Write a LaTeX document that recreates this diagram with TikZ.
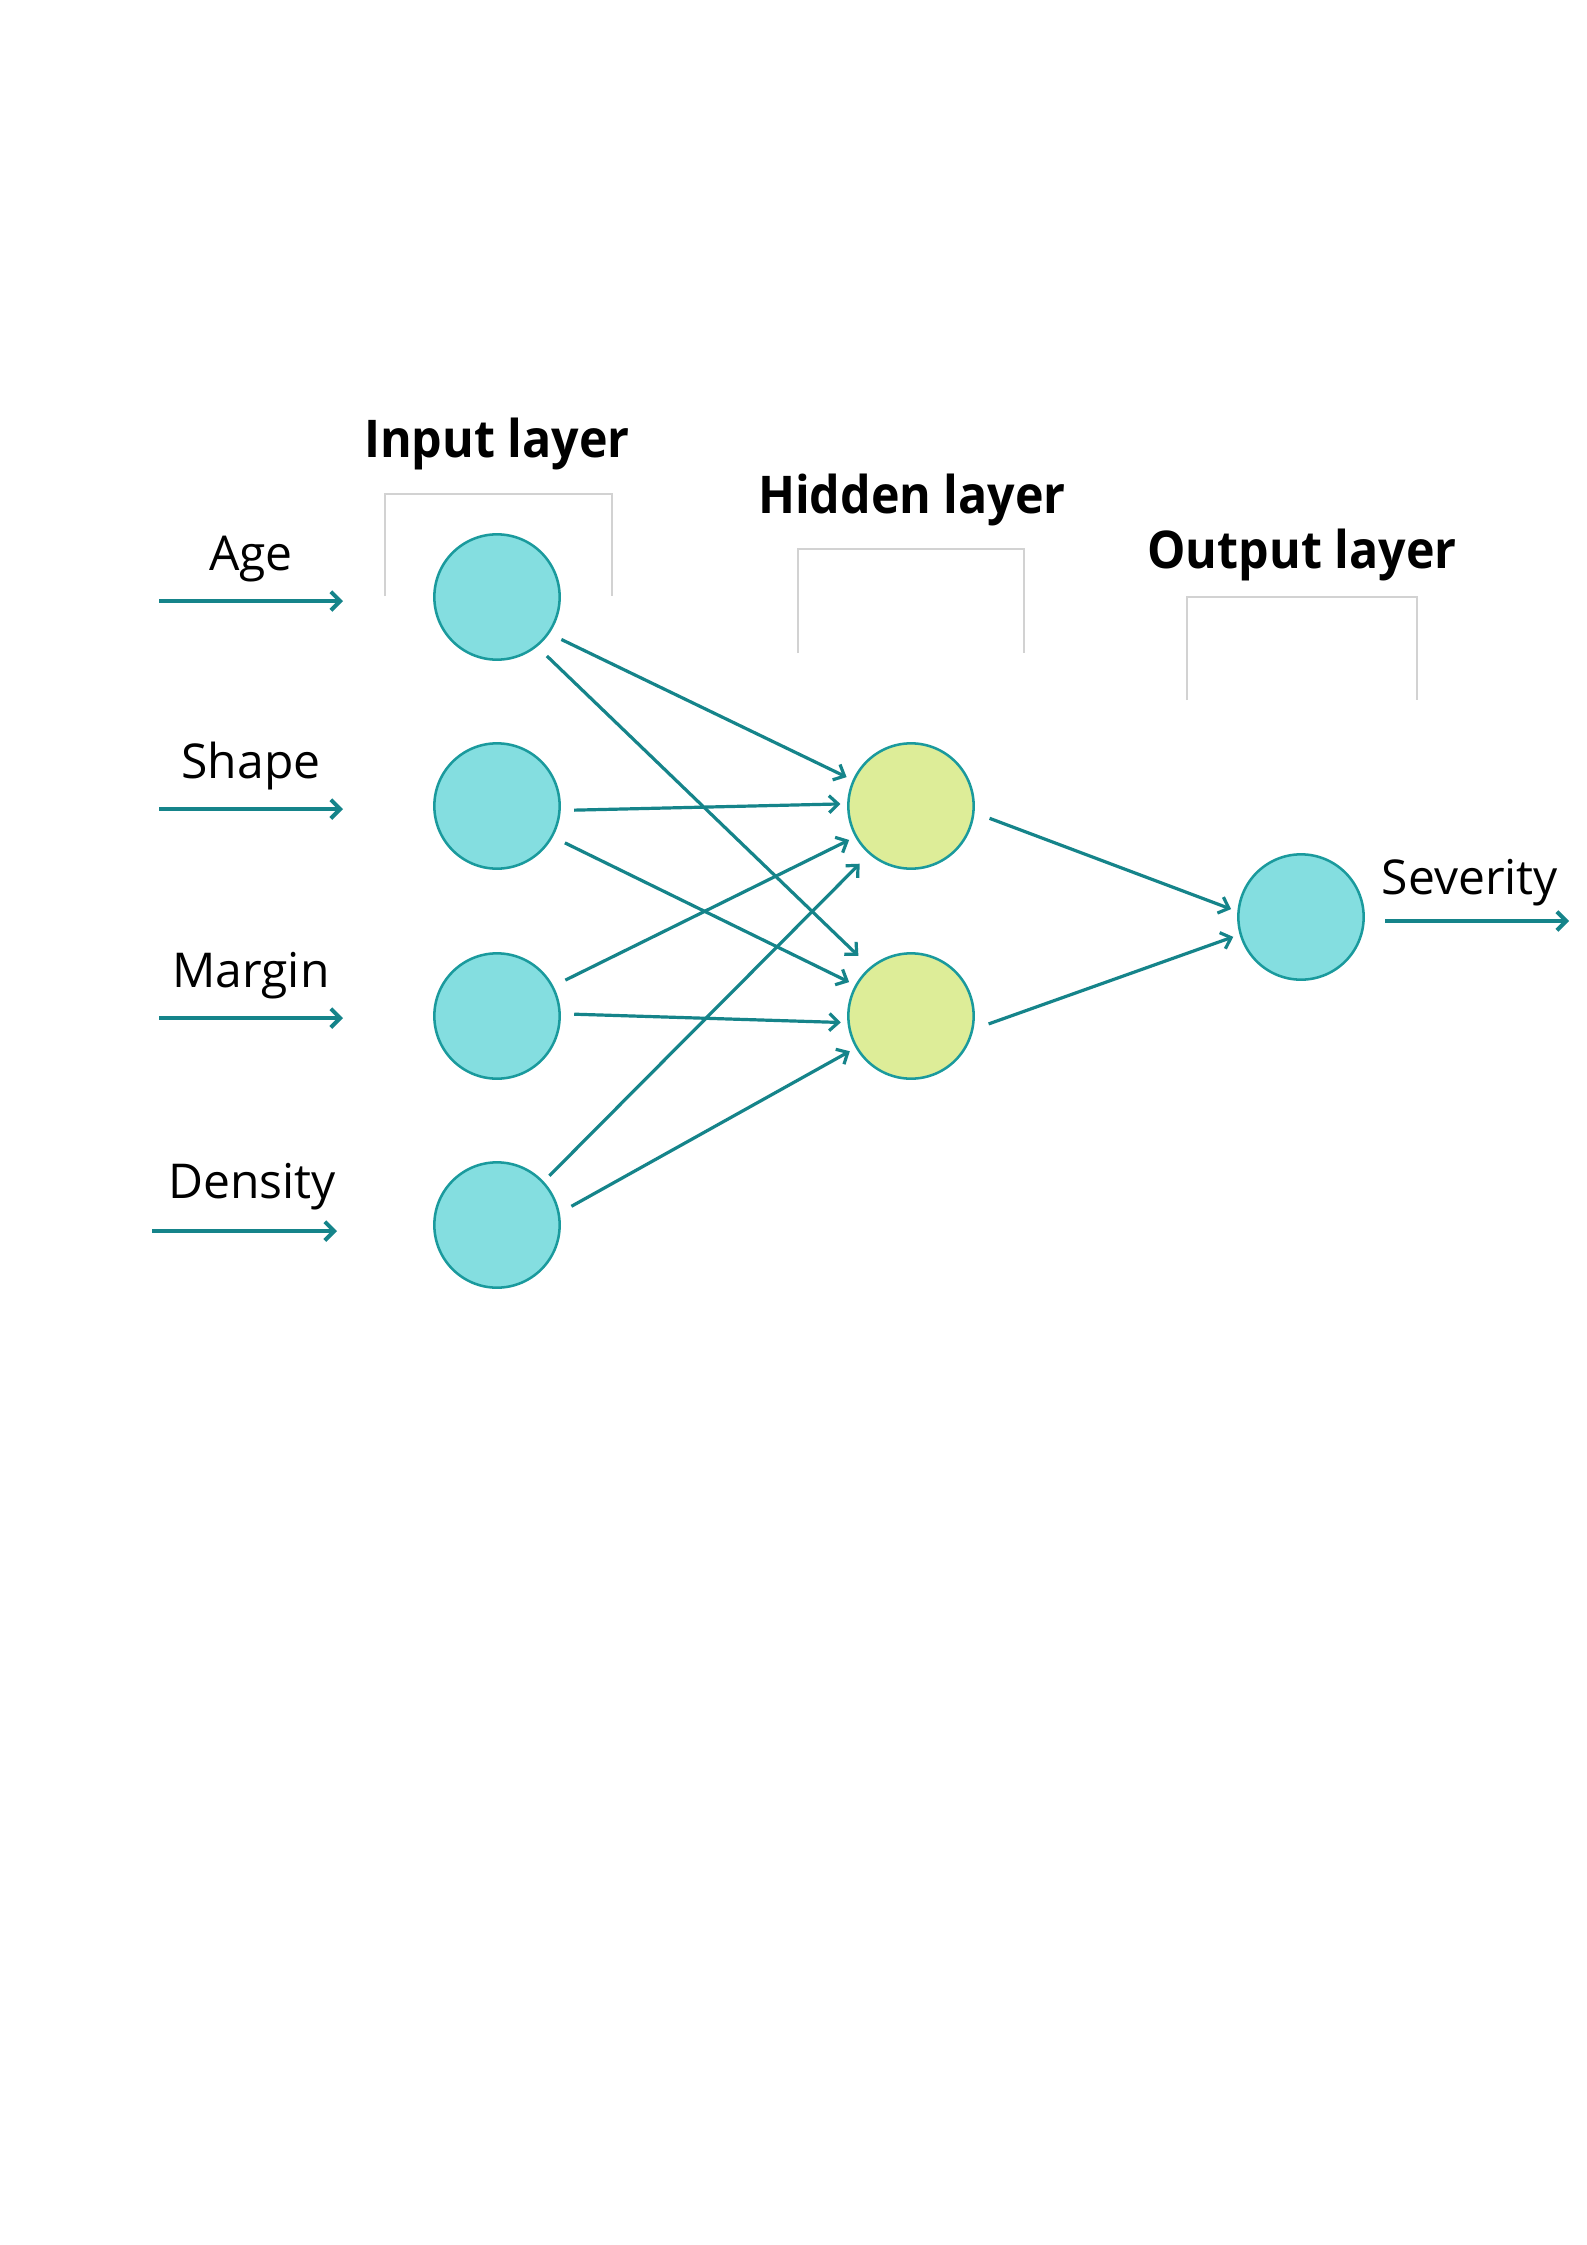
\documentclass[tikz,border=0pt]{standalone}
\usepackage{fontspec}
\setmainfont{Open Sans}
\usetikzlibrary{arrows.meta}
\definecolor{inputfill}{HTML}{84DEE0}
\definecolor{hiddenfill}{HTML}{DDED98}
\definecolor{nodeborder}{HTML}{1A9A9D}
\definecolor{arrowc}{HTML}{15848A}
\definecolor{bracketc}{HTML}{D2D2D2}
\newcommand{\ttl}[1]{\scalebox{0.93}[1]{#1}}
\begin{document}
\begin{tikzpicture}[x=0.375pt,y=-0.375pt,
  inode/.style={circle, draw=nodeborder, fill=inputfill, line width=0.95pt, minimum size=47pt, inner sep=0pt},
  hnode/.style={inode, fill=hiddenfill},
  conn/.style={draw=arrowc, line width=1.2pt, -{Straight Barb[length=3.4pt,width=6.4pt,line width=1.2pt]}, shorten <=5pt, shorten >=2.5pt},
  inarrow/.style={draw=arrowc, line width=1.5pt, -{Straight Barb[length=3.5pt,width=7pt,line width=1.5pt]}},
  bracket/.style={draw=bracketc, line width=1.1pt},
  lab/.style={font=\fontsize{18}{20}\selectfont, inner sep=0pt, anchor=base},
  title/.style={font=\fontsize{19.5}{22}\selectfont\bfseries, inner sep=0pt, anchor=base}]
\useasboundingbox[fill=white] (0,0) rectangle (1587,2245);

% layer titles
\node[title] (tin) at (497,457) {\ttl{Input layer}};
\node[title] (thid) at (912,513) {\ttl{Hidden layer}};
\node[title] (tout) at (1302,568) {\ttl{Output layer}};

% brackets
\draw[bracket] (385,596) -- (385,494) -- (612,494) -- (612,596);
\draw[bracket] (798,653) -- (798,549) -- (1024,549) -- (1024,653);
\draw[bracket] (1187,700) -- (1187,597) -- (1417,597) -- (1417,700);

% nodes
\node[inode] (i1) at (497,597) {};
\node[inode] (i2) at (497,806) {};
\node[inode] (i3) at (497,1016) {};
\node[inode] (i4) at (497,1225) {};
\node[hnode] (h1) at (911,806) {};
\node[hnode] (h2) at (911,1016) {};
\node[inode] (o1) at (1301,917) {};

% input labels and arrows
\node[lab] (lage) at (251,570) {Age};
\node[lab] (lshape) at (251,778) {Shape};
\node[lab] (lmargin) at (251,987) {Margin};
\node[lab] (ldensity) at (252,1198) {Density};
\node[lab] (lsev) at (1470,894) {Severity};

\coordinate (a1s) at (159,601); \coordinate (a1e) at (343,601);
\coordinate (a2s) at (159,809); \coordinate (a2e) at (343,809);
\coordinate (a3s) at (159,1018); \coordinate (a3e) at (343,1018);
\coordinate (a4s) at (152,1231); \coordinate (a4e) at (337,1231);
\coordinate (a5s) at (1385,921); \coordinate (a5e) at (1569,921);
\draw[inarrow] (a1s) -- (a1e);
\draw[inarrow] (a2s) -- (a2e);
\draw[inarrow] (a3s) -- (a3e);
\draw[inarrow] (a4s) -- (a4e);
\draw[inarrow] (a5s) -- (a5e);

% connections
\draw[conn] (i1.-35) -- (h1.156);
\draw[conn, shorten >=6pt] (i1.-51) -- (h2.130);
\draw[conn] (i2.-4) -- (h1.178);
\draw[conn] (i2.-29) -- (h2.151);
\draw[conn] (i3.28) -- (h1.-151);
\draw[conn] (i3.2) -- (h2.-174);
\draw[conn, shorten <=3pt, shorten >=5pt] (i4.43) -- (h1.-131);
\draw[conn] (i4.11.5) -- (h2.-150);
\draw[conn, shorten <=6pt] (h1.-6.5) -- (o1.175);
\draw[conn, shorten <=6pt] (h2.-12) -- (o1.-164);
\end{tikzpicture}
\end{document}
